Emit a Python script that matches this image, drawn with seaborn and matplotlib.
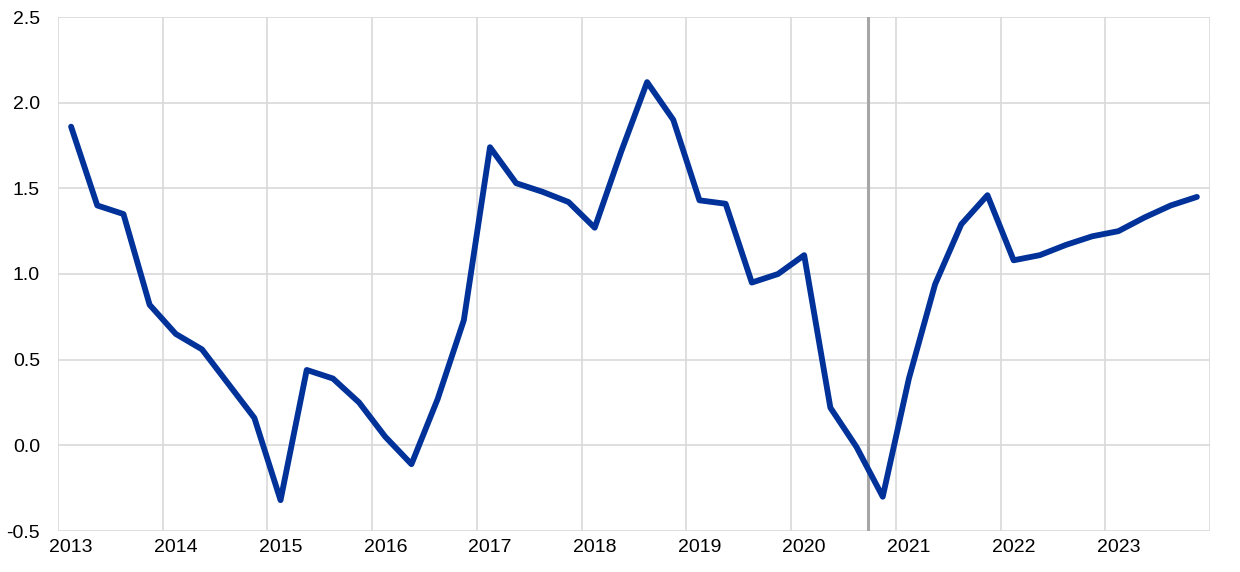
import pandas as pd
import matplotlib.pyplot as plt
import seaborn as sns

years = [y for y in range(2013, 2024) for q in range(4)]
quarters = [q for y in range(2013, 2024) for q in range(1, 5)]
values = [1.86, 1.40, 1.35, 0.82, 0.65, 0.56, 0.36, 0.16,
          -0.32, 0.44, 0.39, 0.25, 0.05, -0.11, 0.27, 0.73,
          1.74, 1.53, 1.48, 1.42, 1.27, 1.71, 2.12, 1.90,
          1.43, 1.41, 0.95, 1.00, 1.11, 0.22, -0.01, -0.30,
          0.39, 0.94, 1.29, 1.46, 1.08, 1.11, 1.17, 1.22,
          1.25, 1.33, 1.40, 1.45]
year_labels = [str(y) for y in range(2013, 2024)]
cutoff = 2020.73

df = pd.DataFrame({"year": years, "quarter": quarters, "value": values})
df["t"] = df["year"] + (df["quarter"] - 0.5) / 4

sns.set_style("white")
plt.rcParams["font.family"] = ["Liberation Sans", "DejaVu Sans"]

fig, ax = plt.subplots(figsize=(12.4, 5.72), dpi=100)
fig.subplots_adjust(left=58 / 1240, right=1210 / 1240, top=1 - 17 / 572, bottom=1 - 531 / 572)

sns.lineplot(data=df, x="t", y="value", color="#003299", linewidth=4.2, ax=ax,
             solid_joinstyle="round", solid_capstyle="round", zorder=3)
ax.axvline(cutoff, color="#A6A6A6", linewidth=2.2, zorder=2)

ax.set_xlim(2013, 2024)
ax.set_ylim(-0.5, 2.5)
ax.set_yticks([-0.5, 0.0, 0.5, 1.0, 1.5, 2.0, 2.5])
ax.set_yticklabels(["-0.5", "0.0", "0.5", "1.0", "1.5", "2.0", "2.5"])
ax.set_xticks([y + 0.125 for y in range(2013, 2024)])
ax.set_xticklabels(year_labels)
ax.set_xticks(range(2013, 2025), minor=True)

ax.grid(True, axis="y", color="#D9D9D9", linewidth=1.2)
ax.grid(True, axis="x", which="minor", color="#D9D9D9", linewidth=1.2)
ax.grid(False, axis="x", which="major")
for s in ax.spines.values():
    s.set_visible(False)
ax.tick_params(axis="both", which="both", length=0, labelsize=14, colors="black")
ax.tick_params(axis="y", pad=13)
ax.tick_params(axis="x", pad=6)
ax.set_xlabel("")
ax.set_ylabel("")

plt.savefig("out.png", dpi=100)
